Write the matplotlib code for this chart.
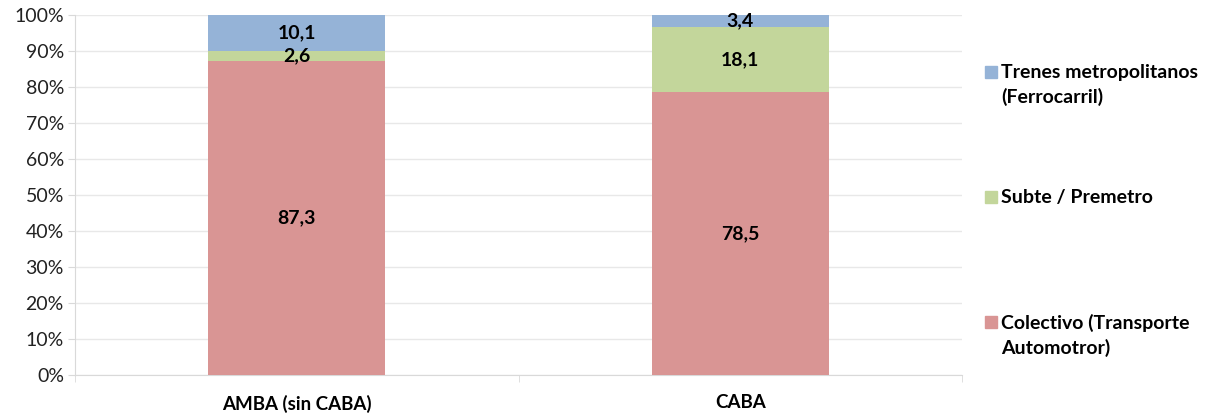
import matplotlib
matplotlib.use("Agg")
import matplotlib.pyplot as plt
from matplotlib.patches import Rectangle

plt.rcParams['font.family'] = ['Lato', 'DejaVu Sans']

categories = ['AMBA (sin CABA)', 'CABA']
colectivo = [87.3, 78.5]
subte = [2.6, 18.1]
trenes = [10.1, 3.4]
series_names = ['Colectivo (Transporte\nAutomotror)', 'Subte / Premetro',
                'Trenes metropolitanos\n(Ferrocarril)']
colors = ['#d99594', '#c3d69b', '#95b3d7']
yticks = [0, 10, 20, 30, 40, 50, 60, 70, 80, 90, 100]

W, H = 1224, 416
fig = plt.figure(figsize=(W / 100, H / 100), dpi=100)
ax = fig.add_axes([75 / W, 41 / H, 887 / W, 360 / H])

x = list(range(len(categories)))
bottom = [0.0] * len(categories)
for vals, col in zip([colectivo, subte, trenes], colors):
    bars = ax.bar(x, vals, width=0.4, bottom=bottom, color=col, zorder=3)
    for xi, v, b in zip(x, vals, bottom):
        ax.text(xi, b + v / 2, f'{v:.1f}'.replace('.', ','), ha='center', va='center',
                fontsize=14, fontweight='bold', color='black', zorder=4)
    bottom = [b + v for b, v in zip(bottom, vals)]

ax.set_xlim(-0.5, 1.5)
ax.set_ylim(0, 100)
ax.set_yticks(yticks)
ax.set_yticklabels([f'{t}%' for t in yticks], fontsize=14, color='#222222')
ax.set_xticks(x)
ax.set_xticklabels(categories, fontsize=13.5, fontweight='bold')
ax.set_xticks([-0.5, 0.5, 1.5], minor=True)
ax.tick_params(axis='x', which='major', length=0, pad=14)
ax.tick_params(axis='x', which='minor', length=5, color='#d9d9d9', direction='out')
ax.tick_params(axis='y', length=5, color='#d9d9d9', pad=3)
ax.grid(axis='y', color='#e8e8e8', linewidth=1, zorder=0)
for s in ['top', 'right']:
    ax.spines[s].set_visible(False)
ax.spines['left'].set_color('#d9d9d9')
ax.spines['bottom'].set_color('#d9d9d9')

# legend, top entry first
leg_y = [72, 197, 322]
for name, col, yy in zip(series_names[::-1], colors[::-1], leg_y):
    fig.add_artist(Rectangle((985 / W, 1 - (yy + 6) / H), 12 / W, 12 / H,
                             color=col, transform=fig.transFigure))
    fig.text(1001 / W, 1 - (yy - 8) / H, name, ha='left', va='top',
             fontsize=14, fontweight='bold', linespacing=1.45)

fig.savefig('out.png', dpi=100)
